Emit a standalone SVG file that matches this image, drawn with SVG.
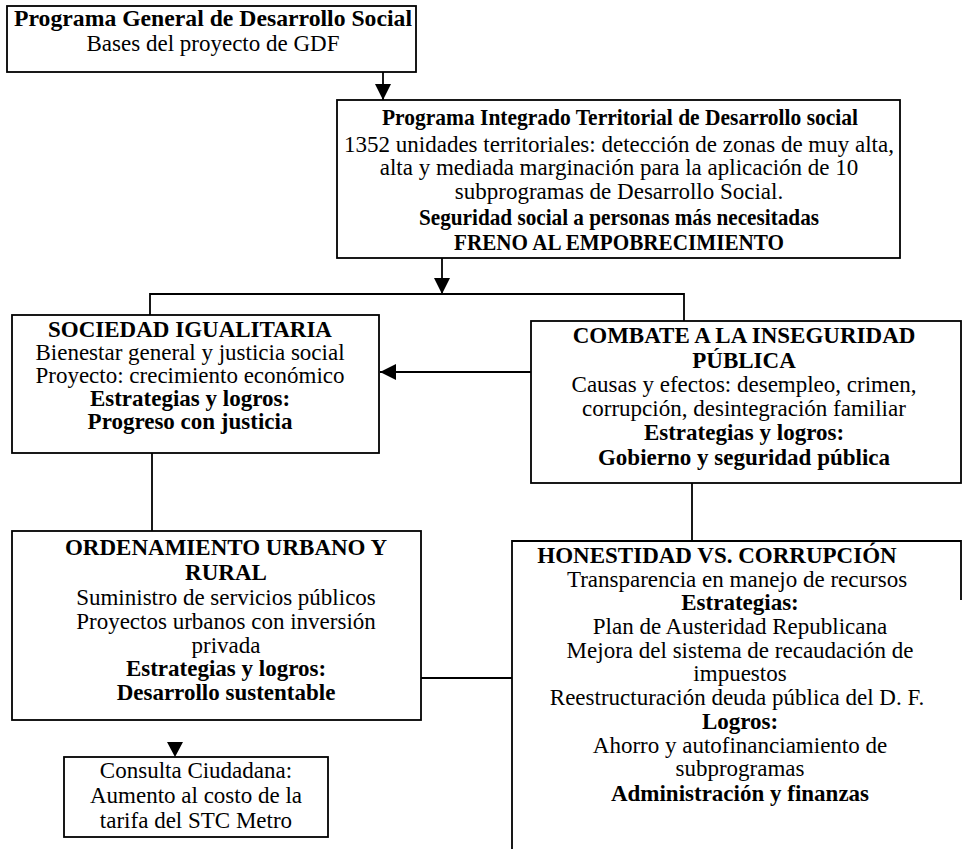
<svg xmlns="http://www.w3.org/2000/svg" width="962" height="849" viewBox="0 0 962 849">
<defs>
<style>
.box{fill:#fff;stroke:#000;stroke-width:1.8}
.ln{fill:none;stroke:#000;stroke-width:1.8}
text{font-family:"Liberation Serif","Times New Roman",serif;font-size:23px;fill:#000;text-anchor:middle}
.b{font-weight:bold}
</style>
<marker id="ahb" viewBox="0 0 10 10" refX="10" refY="5" markerWidth="16" markerHeight="16" markerUnits="userSpaceOnUse" orient="auto"><path d="M0,0 L10,5 L0,10 z" fill="#000"/></marker>
</defs>
<g id="connectors">
<line class="ln" x1="383" y1="72" x2="383" y2="100" marker-end="url(#ahb)"/>
<line class="ln" x1="442" y1="258" x2="442" y2="294" marker-end="url(#ahb)"/>
<polyline class="ln" points="150,315 150,294 684,294 684,321"/>
<line class="ln" x1="531" y1="372" x2="380" y2="372" marker-end="url(#ahb)"/>
<line class="ln" x1="152" y1="453" x2="152" y2="531"/>
<line class="ln" x1="692" y1="483" x2="692" y2="541"/>
<line class="ln" x1="421" y1="678" x2="512" y2="678"/>
<path d="M167,742 L183,742 L175,757 z" fill="#000"/>
</g>
<g id="n1">
<rect class="box" x="7" y="6" width="409" height="66"/>
<text x="213" y="26" class="b" textLength="398" lengthAdjust="spacingAndGlyphs">Programa General de Desarrollo Social</text>
<text x="213" y="51">Bases del proyecto de GDF</text>
</g>
<g id="n2">
<rect class="box" x="337" y="100" width="563" height="158"/>
<text x="620" y="125" class="b" textLength="476" lengthAdjust="spacingAndGlyphs">Programa Integrado Territorial de Desarrollo social</text>
<text x="619" y="152">1352 unidades territoriales: detección de zonas de muy alta,</text>
<text x="619" y="175">alta y mediada marginación para la aplicación de 10</text>
<text x="619" y="199">subprogramas de Desarrollo Social.</text>
<text x="619" y="225" class="b" textLength="400" lengthAdjust="spacingAndGlyphs">Seguridad social a personas más necesitadas</text>
<text x="619" y="250" class="b" textLength="330" lengthAdjust="spacingAndGlyphs">FRENO AL EMPOBRECIMIENTO</text>
</g>
<g id="n3">
<rect class="box" x="12" y="315" width="367" height="138"/>
<text x="190" y="337" class="b">SOCIEDAD IGUALITARIA</text>
<text x="190" y="360">Bienestar general y justicia social</text>
<text x="190" y="383">Proyecto: crecimiento económico</text>
<text x="190" y="406" class="b">Estrategias y logros:</text>
<text x="190" y="429" class="b">Progreso con justicia</text>
</g>
<g id="n4">
<rect class="box" x="531" y="321" width="430" height="162"/>
<text x="744" y="343" class="b">COMBATE A LA INSEGURIDAD</text>
<text x="744" y="368" class="b">PÚBLICA</text>
<text x="744" y="392">Causas y efectos: desempleo, crimen,</text>
<text x="744" y="416">corrupción, desintegración familiar</text>
<text x="744" y="440" class="b">Estrategias y logros:</text>
<text x="744" y="465" class="b">Gobierno y seguridad pública</text>
</g>
<g id="n6">
<rect class="box" x="12" y="531" width="409" height="189"/>
<text x="226" y="555" class="b">ORDENAMIENTO URBANO Y</text>
<text x="226" y="580" class="b">RURAL</text>
<text x="226" y="605">Suministro de servicios públicos</text>
<text x="226" y="629">Proyectos urbanos con inversión</text>
<text x="226" y="653">privada</text>
<text x="226" y="676" class="b">Estrategias y logros:</text>
<text x="226" y="700" class="b">Desarrollo sustentable</text>
</g>
<g id="n5">
<path class="ln" d="M512,849 L512,541 L961,541 L961,600"/>
<text x="717" y="563" class="b">HONESTIDAD VS. CORRUPCIÓN</text>
<text x="737" y="587">Transparencia en manejo de recursos</text>
<text x="740" y="610" class="b">Estrategias:</text>
<text x="740" y="634">Plan de Austeridad Republicana</text>
<text x="740" y="658">Mejora del sistema de recaudación de</text>
<text x="740" y="681">impuestos</text>
<text x="737" y="705">Reestructuración deuda pública del D. F.</text>
<text x="740" y="729" class="b">Logros:</text>
<text x="740" y="753">Ahorro y autofinanciamiento de</text>
<text x="740" y="776">subprogramas</text>
<text x="740" y="801" class="b">Administración y finanzas</text>
</g>
<g id="n7">
<rect class="box" x="64" y="757" width="264" height="80"/>
<text x="196" y="778">Consulta Ciudadana:</text>
<text x="196" y="803">Aumento al costo de la</text>
<text x="196" y="828">tarifa del STC Metro</text>
</g>
</svg>
